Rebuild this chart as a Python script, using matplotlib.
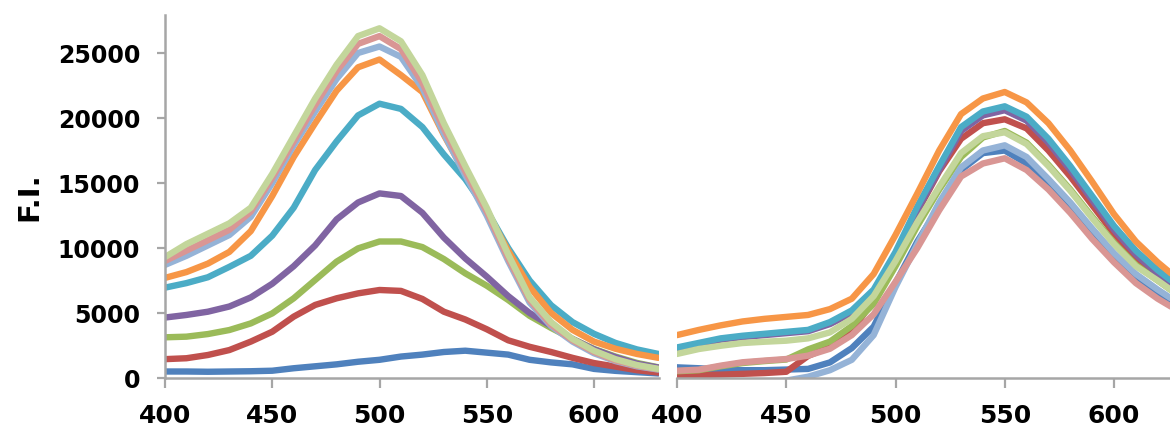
import matplotlib
matplotlib.use("Agg")
import matplotlib.pyplot as plt

# ---------------- data ----------------
wavelength = [400, 410, 420, 430, 440, 450, 460, 470, 480, 490, 500, 510,
              520, 530, 540, 550, 560, 570, 580, 590, 600, 610, 620, 630]

series_colors = ["#4F81BD", "#C0504D", "#9BBB59", "#8064A2", "#4BACC6",
                 "#F79646", "#95B3D7", "#D99694", "#C3D69B"]

# left panel
left_blue = [500, 500, 480, 500, 520, 560, 750, 900, 1050, 1250, 1400, 1650,
             1800, 2000, 2100, 1950, 1800, 1400, 1200, 1050, 700, 550, 450, 350]
left_red = [1450, 1520, 1770, 2150, 2800, 3560, 4720, 5620, 6130, 6510, 6770, 6700,
            6080, 5100, 4500, 3750, 2900, 2400, 2000, 1550, 1150, 880, 600, 420]
left_green = [3130, 3180, 3380, 3690, 4200, 4970, 6130, 7540, 8950, 9970, 10500, 10500,
              10070, 9150, 8050, 7100, 6000, 4780, 3850, 3000, 2230, 1650, 1160, 820]
left_purple = [4650, 4850, 5100, 5500, 6200, 7250, 8600, 10200, 12200, 13500, 14200, 14000,
               12700, 10800, 9200, 7800, 6300, 5000, 4000, 3000, 2200, 1600, 1100, 800]
left_cyan = [6950, 7300, 7750, 8550, 9400, 10950, 13100, 16000, 18200, 20200, 21100, 20700,
             19300, 17200, 15300, 12900, 10000, 7500, 5600, 4300, 3400, 2700, 2200, 1850]
left_orange = [7700, 8150, 8800, 9700, 11300, 14000, 17000, 19600, 22100, 23900, 24500, 23300,
               22000, 18700, 15700, 12800, 9800, 7000, 5000, 3700, 2800, 2250, 1850, 1550]
left_lightblue = [8700, 9400, 10200, 11000, 12400, 15000, 17900, 20500, 23000, 25000, 25500, 24700,
                  22300, 18800, 15600, 12500, 9000, 5800, 4000, 2800, 1900, 1300, 900, 650]
left_pink = [9000, 9800, 10600, 11400, 12800, 15400, 18200, 21000, 23600, 25700, 26300, 25300,
             22700, 19200, 15900, 12800, 9200, 6000, 4100, 2900, 2000, 1350, 950, 680]
left_lightgreen = [9300, 10300, 11100, 11900, 13100, 15700, 18600, 21500, 24100, 26300, 26900, 25900,
                   23300, 19600, 16300, 13100, 9500, 6200, 4300, 3000, 2100, 1450, 1000, 700]

# right panel
right_blue = [820, 750, 650, 600, 600, 650, 700, 1200, 2300, 3950, 7300, 10500,
              13200, 16000, 17300, 17500, 16500, 14900, 13000, 11000, 9200, 7700, 6500, 5400]
right_red = [200, 230, 260, 320, 380, 480, 1700, 2400, 3600, 6000, 9300, 12800,
             15900, 18400, 19600, 19900, 19200, 17500, 15500, 13300, 11100, 9300, 7900, 6600]
right_green = [520, 600, 900, 1150, 1300, 1420, 2200, 2800, 4000, 5700, 8600, 11700,
               14500, 17000, 18500, 19000, 18100, 16400, 14500, 12400, 10400, 8700, 7500, 6300]
right_purple = [2250, 2600, 2950, 3150, 3300, 3450, 3600, 4150, 5000, 6600, 9400, 12900,
                16000, 19000, 20200, 20600, 19800, 18100, 16000, 13700, 11400, 9500, 8000, 6800]
right_cyan = [2350, 2700, 3050, 3250, 3400, 3550, 3700, 4300, 5200, 6800, 9700, 13200,
              16300, 19300, 20500, 20900, 20100, 18400, 16300, 14000, 11700, 9800, 8300, 7000]
right_orange = [3300, 3700, 4050, 4350, 4550, 4700, 4850, 5300, 6100, 8000, 11000, 14200,
                17500, 20300, 21500, 22000, 21200, 19600, 17500, 15100, 12600, 10500, 8900, 7500]
right_lightblue = [-500, -500, -500, -500, -400, -200, 100, 600, 1400, 3300, 7000, 10300,
                   13500, 16200, 17500, 17900, 17000, 15300, 13500, 11500, 9600, 8000, 6800, 5700]
right_pink = [560, 640, 950, 1210, 1340, 1460, 1720, 2250, 3300, 4900, 7400, 10000,
              12900, 15500, 16500, 16900, 16000, 14500, 12700, 10700, 8900, 7300, 6100, 5100]
right_lightgreen = [1850, 2230, 2480, 2690, 2790, 2870, 3050, 3510, 4550, 6300, 9000, 12000,
                    14700, 17300, 18600, 18900, 18000, 16300, 14400, 12300, 10300, 8600, 7500, 6300]

left_series = [left_blue, left_red, left_green, left_purple, left_cyan,
               left_orange, left_lightblue, left_pink, left_lightgreen]
right_series = [right_blue, right_red, right_green, right_purple, right_cyan,
                right_orange, right_lightblue, right_pink, right_lightgreen]

x_ticks = [400, 450, 500, 550, 600]
y_ticks = [0, 5000, 10000, 15000, 20000, 25000]
y_label = "F.I."

# ---------------- figure ----------------
W, H = 1170, 436
fig = plt.figure(figsize=(W / 100, H / 100), dpi=100)
fig.patch.set_facecolor("white")

bottom = (H - 378) / H
height = (378 - 15) / H
ymax = (378 - 15) / 0.013

ax1 = fig.add_axes([165 / W, bottom, (659 - 165) / W, height])
ax2 = fig.add_axes([677 / W, bottom, (W - 677) / W, height])

spine_color = "#A6A6A6"
font = "DejaVu Sans"

for ax, data, xmax in [(ax1, left_series, 400 + 494 / 2.145),
                       (ax2, right_series, 400 + 493 / 2.185)]:
    for vals, col in zip(data, series_colors):
        ax.plot(wavelength, vals, color=col, lw=4.6, solid_capstyle="round",
                solid_joinstyle="round")
    ax.set_xlim(400, xmax)
    ax.set_ylim(0, ymax)
    ax.set_xticks(x_ticks)
    ax.set_xticklabels([str(t) for t in x_ticks], fontsize=18, fontweight="bold",
                       family=font)
    for s in ["top", "right"]:
        ax.spines[s].set_visible(False)
    ax.spines["bottom"].set_color(spine_color)
    ax.spines["bottom"].set_linewidth(1.8)
    ax.tick_params(axis="x", direction="out", length=7, width=1.6,
                   color=spine_color, pad=12)
    ax.set_facecolor("none")

ax1.spines["left"].set_color(spine_color)
ax1.spines["left"].set_linewidth(1.8)
ax1.set_yticks(y_ticks)
ax1.set_yticklabels([str(t) for t in y_ticks], fontsize=17, fontweight="bold",
                    family=font)
ax1.tick_params(axis="y", direction="out", length=6, width=1.6,
                color=spine_color, pad=12)
ax1.set_ylabel(y_label, fontsize=21, fontweight="bold", family=font, labelpad=10)

ax2.spines["left"].set_visible(False)
ax2.set_yticks([])

fig.savefig("out.png", dpi=100, facecolor="white")
